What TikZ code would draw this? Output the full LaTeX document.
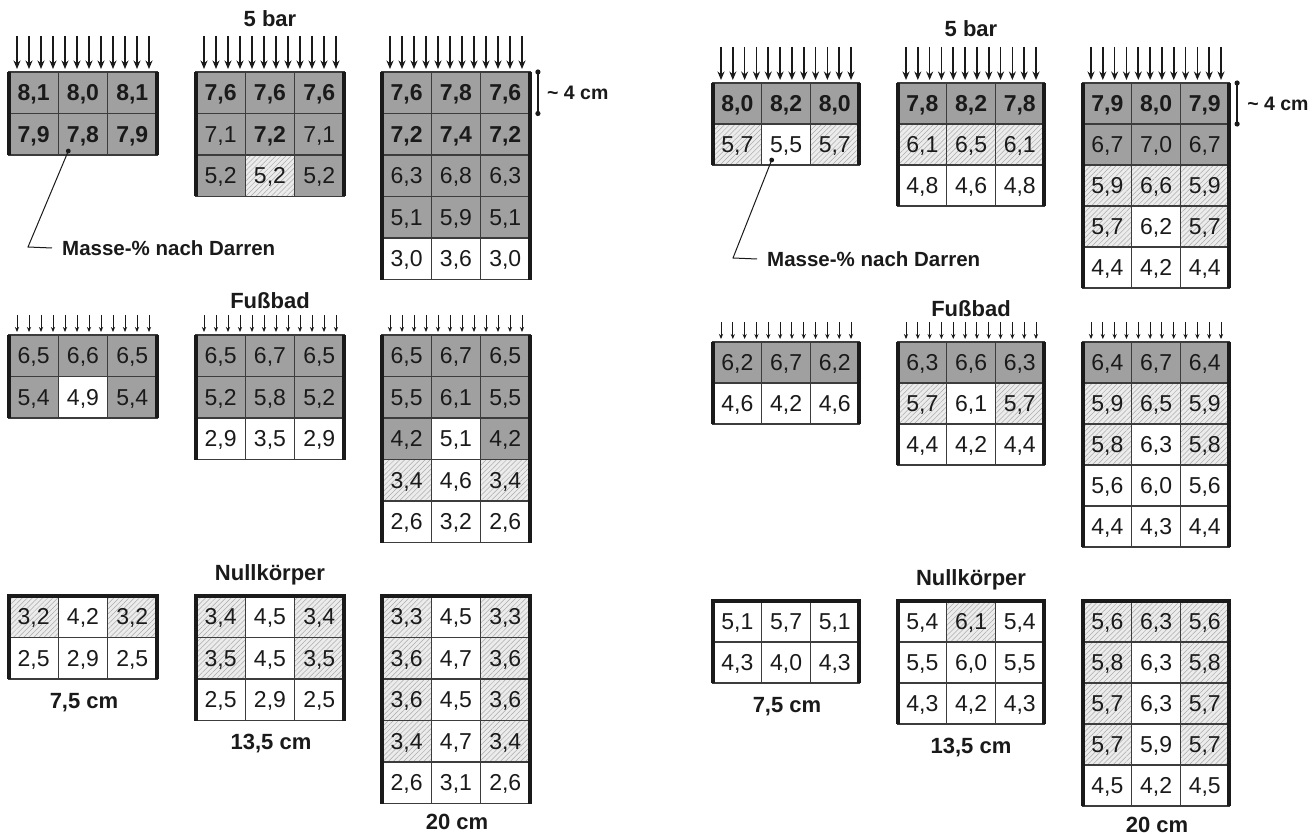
\documentclass[tikz,border=0pt]{standalone}
\usepackage{fontspec}
\setmainfont{Liberation Sans}
\usetikzlibrary{arrows.meta,patterns.meta,calc}
\definecolor{cgray}{HTML}{A0A0A0}
\definecolor{hbg}{HTML}{ECECEC}
\definecolor{hline}{HTML}{ABABAB}
\definecolor{ink}{HTML}{1A1A1A}
\tikzset{
 cell/.style={draw=ink!85, line width=1.2pt, inner sep=0pt, outer sep=0pt,
   font=\fontsize{23}{25}\selectfont, text height=16.4pt, text depth=0pt, text=ink},
 cg/.style={fill=cgray},
 cw/.style={fill=white},
 ch/.style={preaction={fill=hbg}, pattern={Lines[angle=45,distance=3.6pt,line width=0.5pt]}, pattern color=hline},
 fb/.style={font=\fontsize{23}{25}\selectfont\bfseries},
 fn/.style={},
 side/.style={line width=4pt, draw=ink, line join=miter},
 bigarr/.style={line width=1.6pt, draw=ink, -{Stealth[length=8.5pt,width=7pt]}},
 smallarr/.style={line width=0.9pt, draw=ink, -{Stealth[length=5pt,width=4.2pt]}},
 ttl/.style={font=\fontsize{22}{24}\selectfont\bfseries, inner sep=0pt, text=ink, anchor=base},
 lbl/.style={font=\fontsize{20.5}{22}\selectfont\bfseries, inner sep=0pt, text=ink},
 dimlbl/.style={font=\fontsize{19.5}{21}\selectfont\bfseries, inner sep=0pt, text=ink, anchor=west},
 leader/.style={line width=1pt, draw=ink},
 dimline/.style={line width=1.3pt, draw=ink},
}
% #1 grid name, #2 x left, #3 y top, #4 cell width, #5 row height, #6 row index, #7 cells
\newcommand\cellrow[7]{%
 \foreach \fl/\wt/\val [count=\i] in {#7}{%
   \node[cell,\fl,\wt,minimum width=#4pt,minimum height=#5pt] (#1-#6-\i)
     at ({#2+(\i-0.5)*#4},{#3+(#6-0.5)*#5}) {\val};
 }}
\newcommand\sides[2]{%
 \draw[side] (#1-1-1.north west) -- (#1-#2-1.south west);
 \draw[side] (#1-1-3.north east) -- (#1-#2-3.south east);}
\newcommand\topsides[2]{%
 \draw[side] (#1-#2-1.south west) -- (#1-1-1.north west) -- (#1-1-3.north east) -- (#1-#2-3.south east);}
% #1 grid, #2 width, #3 length, #4 style
\newcommand\arrowrow[4]{%
 \foreach \k in {0,...,11}{%
  \pgfmathsetmacro\ax{8+\k*(#2-16)/11}
  \draw[#4] ([shift={(\ax,-#3-3)}]#1-1-1.north west) -- ([shift={(\ax,-3)}]#1-1-1.north west);
 }}
\begin{document}
\begin{tikzpicture}[x=1pt,y=-1pt]
\useasboundingbox (0,0) rectangle (1316,834);
% ================= LEFT =================
% 5 bar
\cellrow{A1}{9}{72}{49.3}{41.5}{1}{cg/fb/8{,}1, cg/fb/8{,}0, cg/fb/8{,}1}
\cellrow{A1}{9}{72}{49.3}{41.5}{2}{cg/fb/7{,}9, cg/fb/7{,}8, cg/fb/7{,}9}
\cellrow{A2}{196}{72}{49.3}{41.5}{1}{cg/fb/7{,}6, cg/fb/7{,}6, cg/fb/7{,}6}
\cellrow{A2}{196}{72}{49.3}{41.5}{2}{cg/fn/7{,}1, cg/fb/7{,}2, cg/fn/7{,}1}
\cellrow{A2}{196}{72}{49.3}{41.5}{3}{cg/fn/5{,}2, ch/fn/5{,}2, cg/fn/5{,}2}
\cellrow{A3}{382}{72}{49.3}{41.5}{1}{cg/fb/7{,}6, cg/fb/7{,}8, cg/fb/7{,}6}
\cellrow{A3}{382}{72}{49.3}{41.5}{2}{cg/fb/7{,}2, cg/fb/7{,}4, cg/fb/7{,}2}
\cellrow{A3}{382}{72}{49.3}{41.5}{3}{cg/fn/6{,}3, cg/fn/6{,}8, cg/fn/6{,}3}
\cellrow{A3}{382}{72}{49.3}{41.5}{4}{cg/fn/5{,}1, cg/fn/5{,}9, cg/fn/5{,}1}
\cellrow{A3}{382}{72}{49.3}{41.5}{5}{cw/fn/3{,}0, cw/fn/3{,}6, cw/fn/3{,}0}
\sides{A1}{2}\sides{A2}{3}\sides{A3}{5}
\arrowrow{A1}{148}{33}{bigarr}
\arrowrow{A2}{148}{33}{bigarr}
\arrowrow{A3}{148}{33}{bigarr}
\node[ttl] (tA) at (270,27) {5 bar};
% dimension
\coordinate (dAt) at ([xshift=8pt]A3-1-3.north east);
\coordinate (dAb) at ([xshift=8pt]A3-1-3.south east);
\draw[dimline] (dAt) -- (dAb);
\fill[ink] (dAt) circle (2.6) (dAb) circle (2.6);
\node[dimlbl] (dAl) at ([xshift=17pt]A3-1-3.east) {\textasciitilde\ 4 cm};
% leader
\coordinate (mAd) at ([shift={(10,-4)}]A1-2-2.south west);
\coordinate (mAc) at (28,247);
\node[lbl,anchor=west] (mAl) at (62,248) {Masse-\% nach Darren};
\fill[ink] (mAd) circle (2.4);
\draw[leader] (mAd) -- (mAc) -- ([xshift=-10pt]mAl.west);
% Fussbad
\cellrow{B1}{9}{335}{49.3}{41.5}{1}{cg/fn/6{,}5, cg/fn/6{,}6, cg/fn/6{,}5}
\cellrow{B1}{9}{335}{49.3}{41.5}{2}{cg/fn/5{,}4, cw/fn/4{,}9, cg/fn/5{,}4}
\cellrow{B2}{196}{335}{49.3}{41.5}{1}{cg/fn/6{,}5, cg/fn/6{,}7, cg/fn/6{,}5}
\cellrow{B2}{196}{335}{49.3}{41.5}{2}{cg/fn/5{,}2, cg/fn/5{,}8, cg/fn/5{,}2}
\cellrow{B2}{196}{335}{49.3}{41.5}{3}{cw/fn/2{,}9, cw/fn/3{,}5, cw/fn/2{,}9}
\cellrow{B3}{382}{335}{49.3}{41.5}{1}{cg/fn/6{,}5, cg/fn/6{,}7, cg/fn/6{,}5}
\cellrow{B3}{382}{335}{49.3}{41.5}{2}{cg/fn/5{,}5, cg/fn/6{,}1, cg/fn/5{,}5}
\cellrow{B3}{382}{335}{49.3}{41.5}{3}{cg/fn/4{,}2, cw/fn/5{,}1, cg/fn/4{,}2}
\cellrow{B3}{382}{335}{49.3}{41.5}{4}{ch/fn/3{,}4, cw/fn/4{,}6, ch/fn/3{,}4}
\cellrow{B3}{382}{335}{49.3}{41.5}{5}{cw/fn/2{,}6, cw/fn/3{,}2, cw/fn/2{,}6}
\sides{B1}{2}\sides{B2}{3}\sides{B3}{5}
\arrowrow{B1}{148}{17}{smallarr}
\arrowrow{B2}{148}{17}{smallarr}
\arrowrow{B3}{148}{17}{smallarr}
\node[ttl] (tB) at (270,308) {Fußbad};
% Nullkoerper
\cellrow{C1}{9}{596}{49.3}{41.5}{1}{ch/fn/3{,}2, cw/fn/4{,}2, ch/fn/3{,}2}
\cellrow{C1}{9}{596}{49.3}{41.5}{2}{cw/fn/2{,}5, cw/fn/2{,}9, cw/fn/2{,}5}
\cellrow{C2}{196}{596}{49.3}{41.5}{1}{ch/fn/3{,}4, cw/fn/4{,}5, ch/fn/3{,}4}
\cellrow{C2}{196}{596}{49.3}{41.5}{2}{ch/fn/3{,}5, cw/fn/4{,}5, ch/fn/3{,}5}
\cellrow{C2}{196}{596}{49.3}{41.5}{3}{cw/fn/2{,}5, cw/fn/2{,}9, cw/fn/2{,}5}
\cellrow{C3}{382}{596}{49.3}{41.5}{1}{ch/fn/3{,}3, cw/fn/4{,}5, ch/fn/3{,}3}
\cellrow{C3}{382}{596}{49.3}{41.5}{2}{ch/fn/3{,}6, cw/fn/4{,}7, ch/fn/3{,}6}
\cellrow{C3}{382}{596}{49.3}{41.5}{3}{ch/fn/3{,}6, cw/fn/4{,}5, ch/fn/3{,}6}
\cellrow{C3}{382}{596}{49.3}{41.5}{4}{ch/fn/3{,}4, cw/fn/4{,}7, ch/fn/3{,}4}
\cellrow{C3}{382}{596}{49.3}{41.5}{5}{cw/fn/2{,}6, cw/fn/3{,}1, cw/fn/2{,}6}
\topsides{C1}{2}\topsides{C2}{3}\topsides{C3}{5}
\node[ttl] (tC) at (270,580) {Nullkörper};
\node[ttl] (sC1) at (84,708) {7,5 cm};
\node[ttl] (sC2) at (271,749) {13,5 cm};
\node[ttl] (sC3) at (457,829) {20 cm};
% ================= RIGHT =================
\cellrow{D1}{713}{83}{48.7}{41}{1}{cg/fb/8{,}0, cg/fb/8{,}2, cg/fb/8{,}0}
\cellrow{D1}{713}{83}{48.7}{41}{2}{ch/fn/5{,}7, cw/fn/5{,}5, ch/fn/5{,}7}
\cellrow{D2}{898}{83}{48.7}{41}{1}{cg/fb/7{,}8, cg/fb/8{,}2, cg/fb/7{,}8}
\cellrow{D2}{898}{83}{48.7}{41}{2}{ch/fn/6{,}1, ch/fn/6{,}5, ch/fn/6{,}1}
\cellrow{D2}{898}{83}{48.7}{41}{3}{cw/fn/4{,}8, cw/fn/4{,}6, cw/fn/4{,}8}
\cellrow{D3}{1083}{83}{48.7}{41}{1}{cg/fb/7{,}9, cg/fb/8{,}0, cg/fb/7{,}9}
\cellrow{D3}{1083}{83}{48.7}{41}{2}{cg/fn/6{,}7, cg/fn/7{,}0, cg/fn/6{,}7}
\cellrow{D3}{1083}{83}{48.7}{41}{3}{ch/fn/5{,}9, ch/fn/6{,}6, ch/fn/5{,}9}
\cellrow{D3}{1083}{83}{48.7}{41}{4}{ch/fn/5{,}7, cw/fn/6{,}2, ch/fn/5{,}7}
\cellrow{D3}{1083}{83}{48.7}{41}{5}{cw/fn/4{,}4, cw/fn/4{,}2, cw/fn/4{,}4}
\sides{D1}{2}\sides{D2}{3}\sides{D3}{5}
\arrowrow{D1}{146}{33}{bigarr}
\arrowrow{D2}{146}{33}{bigarr}
\arrowrow{D3}{146}{33}{bigarr}
\node[ttl] (tD) at (971,37) {5 bar};
\coordinate (dDt) at ([xshift=8pt]D3-1-3.north east);
\coordinate (dDb) at ([xshift=8pt]D3-1-3.south east);
\draw[dimline] (dDt) -- (dDb);
\fill[ink] (dDt) circle (2.6) (dDb) circle (2.6);
\node[dimlbl] (dDl) at ([xshift=18pt]D3-1-3.east) {\textasciitilde\ 4 cm};
\coordinate (mDd) at ([shift={(10,-5)}]D1-2-2.south west);
\coordinate (mDc) at (733,258);
\node[lbl,anchor=west] (mDl) at (767,259) {Masse-\% nach Darren};
\fill[ink] (mDd) circle (2.4);
\draw[leader] (mDd) -- (mDc) -- ([xshift=-10pt]mDl.west);
% Fussbad
\cellrow{E1}{713}{342}{48.7}{41}{1}{cg/fn/6{,}2, cg/fn/6{,}7, cg/fn/6{,}2}
\cellrow{E1}{713}{342}{48.7}{41}{2}{cw/fn/4{,}6, cw/fn/4{,}2, cw/fn/4{,}6}
\cellrow{E2}{898}{342}{48.7}{41}{1}{cg/fn/6{,}3, cg/fn/6{,}6, cg/fn/6{,}3}
\cellrow{E2}{898}{342}{48.7}{41}{2}{ch/fn/5{,}7, cw/fn/6{,}1, ch/fn/5{,}7}
\cellrow{E2}{898}{342}{48.7}{41}{3}{cw/fn/4{,}4, cw/fn/4{,}2, cw/fn/4{,}4}
\cellrow{E3}{1083}{342}{48.7}{41}{1}{cg/fn/6{,}4, cg/fn/6{,}7, cg/fn/6{,}4}
\cellrow{E3}{1083}{342}{48.7}{41}{2}{ch/fn/5{,}9, ch/fn/6{,}5, ch/fn/5{,}9}
\cellrow{E3}{1083}{342}{48.7}{41}{3}{ch/fn/5{,}8, cw/fn/6{,}3, ch/fn/5{,}8}
\cellrow{E3}{1083}{342}{48.7}{41}{4}{cw/fn/5{,}6, cw/fn/6{,}0, cw/fn/5{,}6}
\cellrow{E3}{1083}{342}{48.7}{41}{5}{cw/fn/4{,}4, cw/fn/4{,}3, cw/fn/4{,}4}
\sides{E1}{2}\sides{E2}{3}\sides{E3}{5}
\arrowrow{E1}{146}{17}{smallarr}
\arrowrow{E2}{146}{17}{smallarr}
\arrowrow{E3}{146}{17}{smallarr}
\node[ttl] (tE) at (971,316) {Fußbad};
% Nullkoerper
\cellrow{F1}{713}{601}{48.7}{41}{1}{cw/fn/5{,}1, cw/fn/5{,}7, cw/fn/5{,}1}
\cellrow{F1}{713}{601}{48.7}{41}{2}{cw/fn/4{,}3, cw/fn/4{,}0, cw/fn/4{,}3}
\cellrow{F2}{898}{601}{48.7}{41}{1}{cw/fn/5{,}4, ch/fn/6{,}1, cw/fn/5{,}4}
\cellrow{F2}{898}{601}{48.7}{41}{2}{cw/fn/5{,}5, cw/fn/6{,}0, cw/fn/5{,}5}
\cellrow{F2}{898}{601}{48.7}{41}{3}{cw/fn/4{,}3, cw/fn/4{,}2, cw/fn/4{,}3}
\cellrow{F3}{1083}{601}{48.7}{41}{1}{ch/fn/5{,}6, ch/fn/6{,}3, ch/fn/5{,}6}
\cellrow{F3}{1083}{601}{48.7}{41}{2}{ch/fn/5{,}8, cw/fn/6{,}3, ch/fn/5{,}8}
\cellrow{F3}{1083}{601}{48.7}{41}{3}{ch/fn/5{,}7, cw/fn/6{,}3, ch/fn/5{,}7}
\cellrow{F3}{1083}{601}{48.7}{41}{4}{ch/fn/5{,}7, cw/fn/5{,}9, ch/fn/5{,}7}
\cellrow{F3}{1083}{601}{48.7}{41}{5}{cw/fn/4{,}5, cw/fn/4{,}2, cw/fn/4{,}5}
\topsides{F1}{2}\topsides{F2}{3}\topsides{F3}{5}
\node[ttl] (tF) at (971,585) {Nullkörper};
\node[ttl] (sF1) at (787,712) {7,5 cm};
\node[ttl] (sF2) at (971,753) {13,5 cm};
\node[ttl] (sF3) at (1157,832) {20 cm};
\end{tikzpicture}
\end{document}
